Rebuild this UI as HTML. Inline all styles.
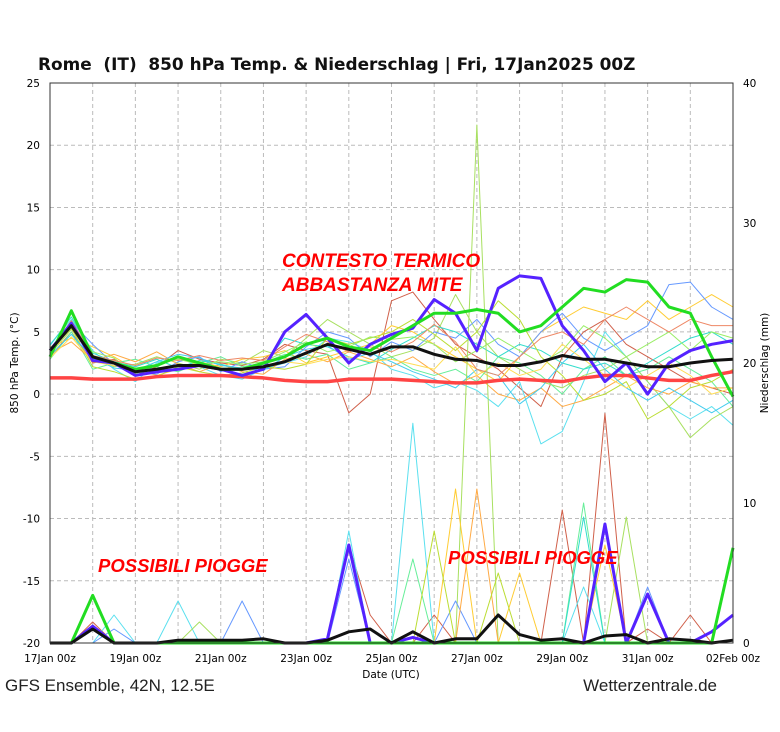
<!DOCTYPE html>
<html><head><meta charset="utf-8"><style>
body{margin:0;background:#fff;font-family:"Liberation Sans",sans-serif}
svg{display:block}
</style></head><body>
<svg id="c" width="780" height="732" viewBox="0 0 780 732" xmlns="http://www.w3.org/2000/svg">
<text x="38" y="70" font-size="16.9" font-weight="bold" fill="#111" font-family="DejaVu Sans, sans-serif" xml:space="preserve">Rome  (IT)  850 hPa Temp. &amp; Niederschlag | Fri, 17Jan2025 00Z</text>
<g id="grid"></g>
<g id="series"></g>
<g id="axes" font-family="DejaVu Sans, sans-serif"></g>
<text x="18" y="363" font-size="10.5" font-family="DejaVu Sans, sans-serif" transform="rotate(-90 18 363)" text-anchor="middle">850 hPa Temp. (°C)</text>
<text x="768" y="363" font-size="10.5" font-family="DejaVu Sans, sans-serif" transform="rotate(-90 768 363)" text-anchor="middle">Niederschlag (mm)</text>
<text x="391" y="678" font-size="10.5" font-family="DejaVu Sans, sans-serif" text-anchor="middle">Date (UTC)</text>
<g font-weight="bold" font-style="italic" fill="#ff0000" font-size="19">
<text x="282" y="267">CONTESTO TERMICO</text>
<text x="282" y="291">ABBASTANZA MITE</text>
<text x="98" y="572" font-size="18.5">POSSIBILI PIOGGE</text>
<text x="448" y="564" font-size="18.5">POSSIBILI PIOGGE</text>
</g>
<text x="5" y="691" font-size="17" fill="#222">GFS Ensemble, 42N, 12.5E</text>
<text x="717" y="691" font-size="17" fill="#222" text-anchor="end">Wetterzentrale.de</text>
</svg>
<script>
const xTickLabels=["17Jan 00z","19Jan 00z","21Jan 00z","23Jan 00z","25Jan 00z","27Jan 00z","29Jan 00z","31Jan 00z","02Feb 00z"];
const yTicks=[25,20,15,10,5,0,-5,-10,-15,-20];
const y2Ticks=[40,30,20,10,0];
const meanT=[3.5,5.5,3,2.5,1.8,2,2.3,2.3,2,2,2.2,2.6,3.3,4,3.6,3.2,3.8,3.8,3.2,2.8,2.7,2.3,2.3,2.6,3.1,2.8,2.8,2.5,2.2,2.2,2.5,2.7,2.8];
const blueT=[3.5,5.7,2.7,2.5,1.5,1.8,2,2.3,2,1.5,2,5,6.4,4.5,2.5,4,4.8,5.3,7.6,6.5,3.5,8.5,9.5,9.3,5.5,3.5,1,2.5,0,2.5,3.5,4,4.3];
const greenT=[3,6.7,3,2.5,2,2.3,3,2.5,2,2,2.5,3,4,4.5,3.8,3.5,4.5,5.5,6.5,6.5,6.8,6.5,5,5.5,7,8.5,8.2,9.2,9,7,6.5,3,-0.2];
const climT=[1.3,1.3,1.2,1.2,1.2,1.4,1.5,1.5,1.5,1.4,1.3,1.1,1,1,1.2,1.2,1.2,1.1,1,0.9,0.9,1.1,1.2,1.1,1,1.3,1.5,1.5,1.3,1.1,1.1,1.5,1.8];
const m1=[3,5,2.5,2.8,1.5,2.2,3.5,2.8,2.5,2.3,2.8,4,3.5,3.2,-1.5,0,7.5,8.2,6,4,3,2,0.5,-1,3,5,6,4,3,2,1,0.5,0];
const m2=[4,6,3.5,2,1,2.5,3,2.2,1.5,1.2,2,2.5,3,4.5,4.2,3.5,2,1.5,0.5,1,0.3,-1,1,-4,-3,1,5,3,1,-1,-2,-1,-2.5];
const m3=[3.2,5.2,3,2.2,2.4,3,2.5,2,2.8,2.5,3.5,3,4.5,6,5,4,3,3.5,4.5,8,5,3,2,1,0.5,1.5,2,3,1,-1,-3.5,-2,-1];
const m4=[3.8,4.5,3.8,3,2,1.5,2,2.6,2.2,2.8,3,3.5,2.5,3,3.5,4,5.5,5,4,3,2,1,3,5,6,7,6.5,6,7.5,6,7,8,7];
const m5=[2.8,5,2,2.5,2.8,2.2,1.8,2.5,3,2.2,2.5,3.2,2.8,3.2,2,2.5,3,2,1.5,2,1,3,2.5,1.5,0,2,3,1.5,2,3,2,1,-1];
const m6=[3.6,5.8,4,2.4,1.8,1.6,2.6,3,1.8,2.6,2,2.2,3.8,5,4.5,3,4.2,3.5,5,4.5,6,4,3,5,6.5,4.5,3.5,4.5,5.5,8.8,9,7,6];
const m7=[3.3,4.2,2.7,3.2,2.6,3.4,2.4,1.8,2.4,1.8,1.6,2.8,3.2,2.6,3.4,2.8,2.2,3,1.8,0.8,1.5,0,-0.5,0.5,-1,-0.5,0.5,1.5,0.5,0,1,0.5,0.5];
const m8=[3.9,6.2,3.3,2.6,2.2,2.8,2.1,2.7,2.4,2,2.4,4.5,4,3.8,3,2.5,3.6,4.5,5.5,5,4,3,4,3.5,2.5,2,2.5,1.5,2.5,3.5,4.5,5,4];
const m9=[3.4,5.3,2.2,1.8,1.2,1.4,2.2,1.8,1.5,1.7,2.2,2,2.4,4.5,4,4.5,5,6,4.8,3.5,5,7.5,6,3,1.5,-0.5,0,1,-2,-1,0.5,1,2];
const m10=[3.1,4.8,2.9,2.1,1.9,2.6,3.2,2.9,2.3,2.1,1.9,3,3.6,3.9,2.8,3.3,2.6,1.8,1.2,0.5,2,1.5,-0.8,0.5,2.5,4,2,0.5,-0.5,0.5,-0.5,-1.5,-0.5];
const m11=[3.7,5.4,3.4,2.9,1.6,2.4,2.8,2.4,2.6,2.4,2.6,3.4,4.2,3.4,3.8,4.6,4.4,4.6,4,2.6,3.5,4.5,3.5,2.5,3.5,5.5,4.5,3,4,5,3.5,5,4.5];
const m12=[2.9,4.6,2.6,2.3,2.1,1.7,2.4,2.2,2,1.9,2.2,2.6,2.4,2.8,3,2.6,2.8,2.4,2,3.8,1.5,2.5,1.5,2,4,2.8,1.5,0.5,1.5,2.5,1.5,0,0.5];
const m13=[3.5,5.9,3.1,2.7,2.3,2.9,2.7,3.1,2.7,2.9,2.7,3.8,4.8,4.2,3.4,3.8,3.4,4.2,5.6,4.2,2,1.5,3,4.5,5,4,6,7,6,5,6,5.5,5.5];
const members=[m1,m2,m3,m4,m5,m6,m7,m8,m9,m10,m11,m12,m13];
const memberColors=["#d0604a","#5be0ef","#a8e060","#ffcc33","#66ee99","#6699ff","#ffaa44","#33ddcc","#bbdd33","#44ccee","#99ee66","#ffdd55","#ee8866"];
const meanP=[0,0,1,0,0,0,0.2,0.2,0.2,0.2,0.3,0,0,0.2,0.8,1,0,0.8,0,0.3,0.3,2,0.6,0.2,0.3,0,0.5,0.6,0,0.3,0.2,0,0.2];
const blueP=[0,0,1.2,0,0,0,0,0,0,0,0,0,0,0.3,7,0,0,0.4,0,0,0,0,0,0,0,0,8.5,0,3.5,0,0,0.8,2];
const greenP=[0,0,3.4,0,0,0,0,0,0,0,0,0,0,0,0,0,0,0,0,0,0,0,0,0,0,0,0,0,0,0,0,0,6.8];
const p1=[0,0,1.5,0,0,0,0,0,0,0,0,0,0,0,7,2,0,0,2,0,0,0,0,0,9.5,0,16.4,0,1,0,2,0,0];
const p2=[0,0,0,2,0,0,3,0,0,0,0,0,0,0,8,0,0,15.7,0,0,0,0,0,0,0,4,0,0,0,0,0,0,0];
const p3=[0,0,0,0,0,0,0,1.5,0,0,0,0,0,0,0,0,0,0,0,0,37,0,0,0,0,0,0,9,0,0,0,0,0];
const p4=[0,0,0,0,0,0,0,0,0,0,0,0,0,0,0,0,0,0,0,11,0,0,5,0,0,0,7,0,0,0,0,0,0];
const p5=[0,0,0,0,0,0,0,0,0,0,0,0,0,0,0,0,0,6,0,0,0,0,0,0,0,10,0,0,0,0,0,0,0];
const p6=[0,0,0,1,0,0,0,0,0,3,0,0,0,0,6,0,0,0,0,3,0,0,0,0,0,0,0,0,4,0,0,0,0];
const p7=[0,0,0,0,0,0,0,0,0,0,0,0,0,0,0,0,0,0,0,0,11,0,0,0,0,0,0,0,0,0,0,0,0];
const p8=[0,0,0,0,0,0,0,0,0,0,0,0,0,0,0,0,0,0,0,0,0,0,0,0,0,9,0,0,0,0,0,0,0];
const p9=[0,0,0,0,0,0,0,0,0,0,0,0,0,0,0,0,0,0,8,0,0,5,0,0,0,0,0,0,0,0,0,0,0];
const precipMembers=[p1,p2,p3,p4,p5,p6,p7,p8,p9];

const X0=50,X1=733,Y0=83,Y1=643,DAYS=16;
const xs=i=>X0+(i*0.5)/DAYS*(X1-X0);
const yT=v=>Y1-(v+20)/45*(Y1-Y0);
const yP=v=>Y1-v/40*(Y1-Y0);
const NS="http://www.w3.org/2000/svg";
function mk(tag,parent){const e=document.createElementNS(NS,tag);parent.appendChild(e);return e;}
const grid=document.getElementById('grid'),ser=document.getElementById('series'),ax=document.getElementById('axes');
for(let d=0;d<=DAYS;d++){const x=X0+d/DAYS*(X1-X0);const l=mk('line',grid);


l.setAttribute('x1',x);l.setAttribute('x2',x);l.setAttribute('y1',Y0);l.setAttribute('y2',Y1);l.setAttribute('stroke','#bbb');l.setAttribute('stroke-dasharray','4,3');}
yTicks.forEach(v=>{const y=yT(v);const l=mk('line',grid);


l.setAttribute('x1',X0);l.setAttribute('x2',X1);l.setAttribute('y1',y);l.setAttribute('y2',y);l.setAttribute('stroke','#bbb');l.setAttribute('stroke-dasharray','4,3');
const t=mk('text',ax);t.textContent=v;


t.setAttribute('x',X0-10);t.setAttribute('y',y+4);t.setAttribute('text-anchor','end');t.setAttribute('font-size','10.5');});
y2Ticks.forEach(v=>{const t=mk('text',ax);t.textContent=v;


t.setAttribute('x',X1+10);t.setAttribute('y',yP(v)+4);t.setAttribute('font-size','10.5');});
xTickLabels.forEach((s,k)=>{const x=X0+k*2/DAYS*(X1-X0);const t=mk('text',ax);t.textContent=s;


t.setAttribute('x',x);t.setAttribute('y',Y1+19);t.setAttribute('text-anchor','middle');t.setAttribute('font-size','10.5');});
const fr=mk('rect',ax);


fr.setAttribute('x',X0);fr.setAttribute('y',Y0);fr.setAttribute('width',X1-X0);fr.setAttribute('height',Y1-Y0);fr.setAttribute('fill','none');fr.setAttribute('stroke','#333');
function line(arr,fy,col,w,name){const p=mk('polyline',ser);


p.setAttribute('points',arr.map((v,i)=>xs(i)+','+fy(v)).join(' '));p.setAttribute('fill','none');p.setAttribute('stroke',col);p.setAttribute('stroke-width',w);p.setAttribute('stroke-linejoin','round');}
members.forEach((a,k)=>line(a,yT,memberColors[k],1,'member-temp-line'));
precipMembers.forEach((a,k)=>line(a,yP,memberColors[k],1,'member-precip-line'));
line(climT,yT,'#ff4444',3.5,'climate-line');
line(blueT,yT,'#5522ff',3,'control-temp-line');
line(greenT,yT,'#22dd22',3,'operational-temp-line');
line(meanT,yT,'#111',3,'mean-temp-line');
line(blueP,yP,'#5522ff',3,'control-precip-line');
line(greenP,yP,'#22dd22',3,'operational-precip-line');
line(meanP,yP,'#111',3,'mean-precip-line');
</script>
</body></html>
